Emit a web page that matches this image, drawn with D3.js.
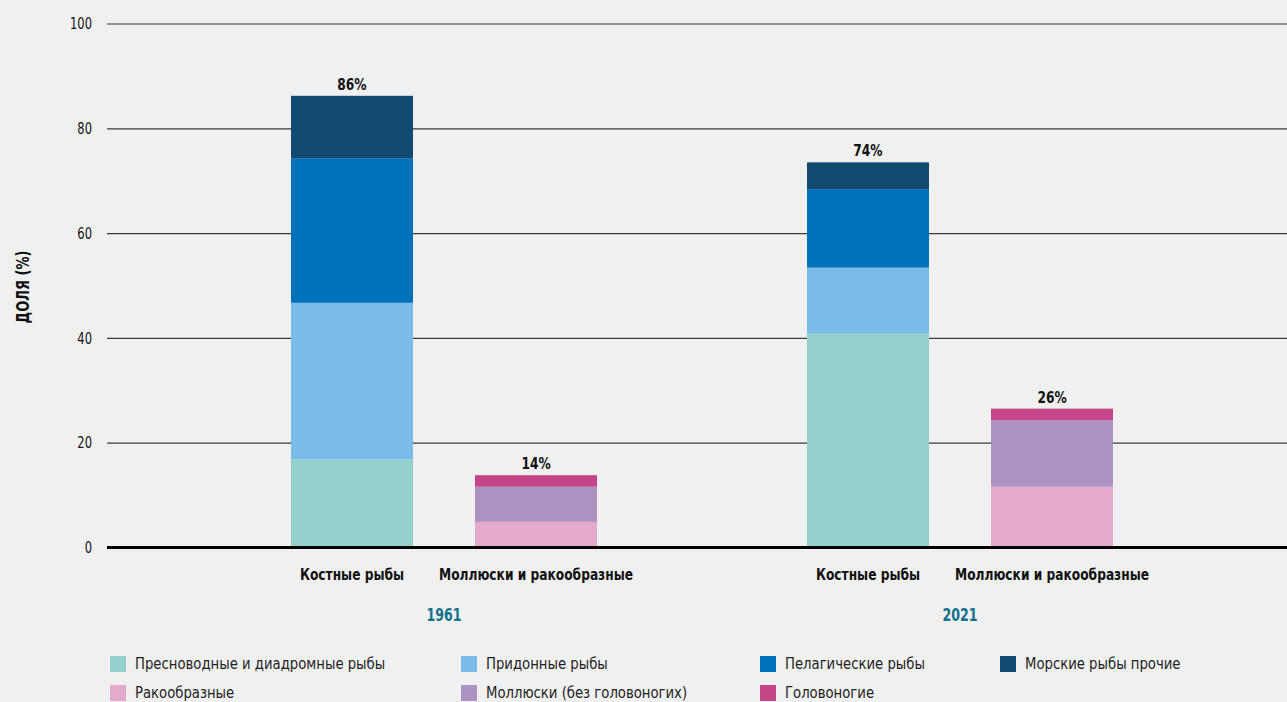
<!DOCTYPE html>
<html lang="ru">
<head>
<meta charset="utf-8">
<script src="https://cdn.jsdelivr.net/npm/d3@7"></script>
<style>
  html, body { margin: 0; padding: 0; background: #f0f0f0; }
  svg { display: block; }
  text { font-family: "Liberation Sans Narrow", "DejaVu Sans Condensed", "Roboto", sans-serif; fill: #111; }
</style>
</head>
<body>
<svg id="chart" width="1287" height="702"></svg>
<script>
// Years and product groups
const years = ["1961", "2021"];
const groups = ["Костные рыбы", "Моллюски и ракообразные"];

// Stack components, bottom to top, per product group
const fishSeries = ["Пресноводные и диадромные рыбы", "Придонные рыбы", "Пелагические рыбы", "Морские рыбы прочие"];
const shellSeries = ["Ракообразные", "Моллюски (без головоногих)", "Головоногие"];

// Shares in percent: [1961, 2021]
const freshwater = [16.8, 40.8];
const demersal = [29.9, 12.6];
const pelagic = [27.6, 15.0];
const marineOther = [11.9, 5.1];
const crustaceans = [4.9, 11.6];
const molluscs = [6.7, 12.7];
const cephalopods = [2.2, 2.2];

// Printed totals above the bars
const totalLabels = { "1961": ["86%", "14%"], "2021": ["74%", "26%"] };

const yTicks = [0, 20, 40, 60, 80, 100];

// Legend order as laid out in two rows
const legendOrder = [
  "Пресноводные и диадромные рыбы", "Придонные рыбы", "Пелагические рыбы", "Морские рыбы прочие",
  "Ракообразные", "Моллюски (без головоногих)", "Головоногие"
];

const colors = {
  "Пресноводные и диадромные рыбы": "#96d0cd",
  "Придонные рыбы": "#7bbbe8",
  "Пелагические рыбы": "#0072bc",
  "Морские рыбы прочие": "#134a72",
  "Ракообразные": "#e4aac9",
  "Моллюски (без головоногих)": "#ad93c3",
  "Головоногие": "#c44688"
};

const valuesBySeries = {
  "Пресноводные и диадромные рыбы": freshwater,
  "Придонные рыбы": demersal,
  "Пелагические рыбы": pelagic,
  "Морские рыбы прочие": marineOther,
  "Ракообразные": crustaceans,
  "Моллюски (без головоногих)": molluscs,
  "Головоногие": cephalopods
};

const svg = d3.select("#chart");

// Condensed-looking label: text squeezed horizontally around its anchor point
function label(parent, x, y, str, opts) {
  const o = Object.assign({ size: 15, weight: "normal", anchor: "start", sx: 0.9, fill: "#111", rotate: 0 }, opts);
  const t = parent.append("text")
    .attr("transform", `translate(${x},${y})` + (o.rotate ? ` rotate(${o.rotate})` : "") + ` scale(${o.sx},1)`)
    .attr("text-anchor", o.anchor)
    .attr("font-size", o.size)
    .attr("font-weight", o.weight)
    .style("fill", o.fill)
    .text(str);
  return t;
}

const plotLeft = 107, plotRight = 1287;
const y = d3.scaleLinear().domain([0, 100]).range([547.5, 23.5]);

const xYear = d3.scaleBand().domain(years).range([186, 1218]);
const xGroup = d3.scaleBand().domain(groups).range([105, 411]).paddingInner(0.337).paddingOuter(0);

// Grid lines and tick labels
const yAxis = d3.axisLeft(y).tickValues(yTicks).tickSize(-(plotRight - plotLeft)).tickPadding(15);
const gAxis = svg.append("g").attr("transform", `translate(${plotLeft},0)`).call(yAxis);
gAxis.select(".domain").remove();
gAxis.selectAll(".tick line").attr("stroke", "#3a3a3a").attr("stroke-width", 1.2);
gAxis.selectAll(".tick text")
  .attr("x", 0)
  .attr("transform", "translate(-15,0) scale(0.8,1)")
  .attr("font-size", 16)
  .attr("fill", "#222")
  .style("font-family", "'Liberation Sans Narrow', 'DejaVu Sans Condensed', 'Roboto', sans-serif");

// Axis title
label(svg, 29, 287, "ДОЛЯ (%)", { size: 17, weight: "bold", anchor: "middle", rotate: -90, sx: 0.85 });

// Stacked bars
years.forEach((yr, yi) => {
  const g = svg.append("g").attr("transform", `translate(${xYear(yr)},0)`);
  groups.forEach((grp, gi) => {
    const series = gi === 0 ? fishSeries : shellSeries;
    const row = {};
    series.forEach(s => { row[s] = valuesBySeries[s][yi]; });
    const stacked = d3.stack().keys(series)([row]);
    g.selectAll(null)
      .data(stacked)
      .join("rect")
      .attr("x", xGroup(grp))
      .attr("width", xGroup.bandwidth())
      .attr("y", d => y(d[0][1]))
      .attr("height", d => y(d[0][0]) - y(d[0][1]))
      .attr("fill", d => colors[d.key]);

    const cx = xGroup(grp) + xGroup.bandwidth() / 2;
    const top = stacked[stacked.length - 1][0][1];
    label(g, cx, y(top) - 6, totalLabels[yr][gi], { size: 16, weight: "bold", anchor: "middle", sx: 0.85 });
    label(g, cx, 580, grp, { size: 16, weight: "bold", anchor: "middle", sx: 0.85 });
  });

  label(svg, xYear(yr) + xYear.bandwidth() / 2, 621, yr,
    { size: 18, weight: "bold", anchor: "middle", sx: 0.78, fill: "#15708d" });
});

// Baseline
svg.append("line")
  .attr("x1", plotLeft).attr("x2", plotRight)
  .attr("y1", y(0)).attr("y2", y(0))
  .attr("stroke", "#000").attr("stroke-width", 3);

// Legend
const legendCols = [110, 461, 760, 1000];
const legendRows = [656, 685];
const legend = svg.append("g");
legendOrder.forEach((name, i) => {
  const col = i < 4 ? i : i - 4;
  const row = i < 4 ? 0 : 1;
  const lg = legend.append("g").attr("transform", `translate(${legendCols[col]},${legendRows[row]})`);
  lg.append("rect").attr("width", 16).attr("height", 16).attr("fill", colors[name]);
  label(lg, 25, 12.5, name, { size: 16, sx: 0.92, fill: "#222" });
});
</script>
</body>
</html>
